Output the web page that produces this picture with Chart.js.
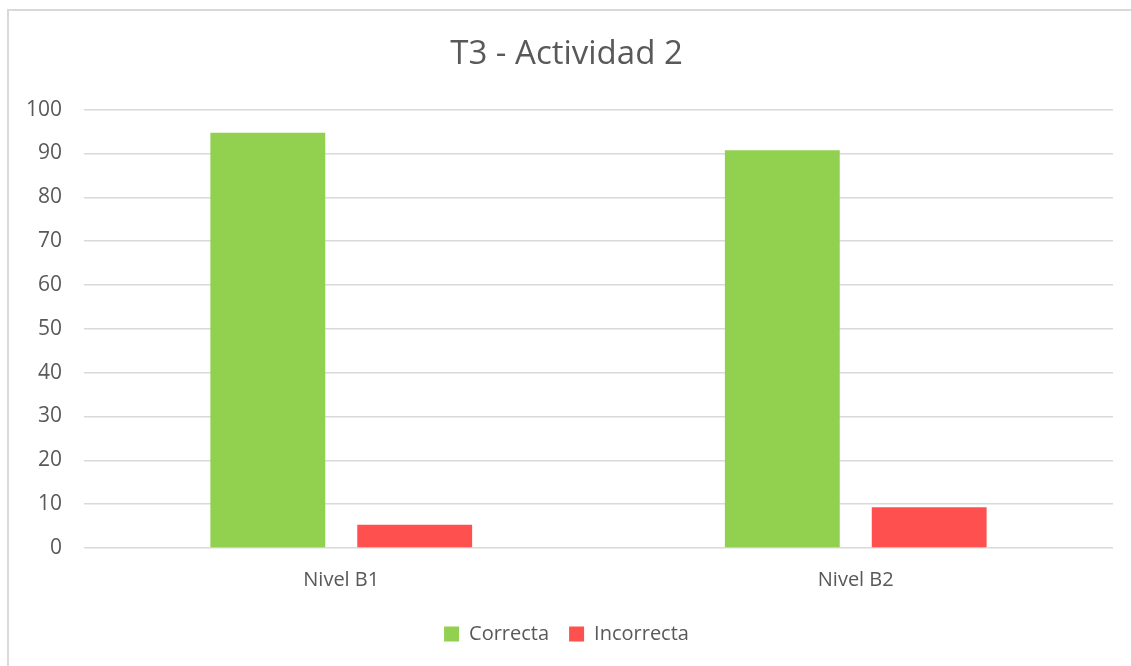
<!DOCTYPE html>
<html>
<head>
<meta charset="utf-8">
<script src="https://cdn.jsdelivr.net/npm/chart.js@4/dist/chart.umd.min.js"></script>
<style>
  html, body { margin: 0; padding: 0; background: #fff; }
  #frame { position: absolute; left: 7px; top: 9px; width: 1130px; height: 670px; border: 2px solid #d9d9d9; box-sizing: border-box; }
  #wrap { position: absolute; left: 0; top: 0; width: 1131px; height: 666px; }
</style>
</head>
<body>
<div id="frame"></div>
<div id="wrap"><canvas id="chart"></canvas></div>
<script>
const categories = ['Nivel B1', 'Nivel B2'];
const correcta = [94.7, 90.7];
const incorrecta = [5.3, 9.3];
const yTicks = [0, 10, 20, 30, 40, 50, 60, 70, 80, 90, 100];

const ctx = document.getElementById('chart').getContext('2d');
Chart.defaults.font.family = '"Open Sans", sans-serif';
Chart.defaults.color = '#595959';

new Chart(ctx, {
    type: 'bar',
    data: {
        labels: categories,
        datasets: [
            {
                label: 'Correcta',
                data: correcta,
                backgroundColor: '#92D050',
                categoryPercentage: 0.571,
                barPercentage: 0.782
            },
            {
                label: 'Incorrecta',
                data: incorrecta,
                backgroundColor: '#FF5050',
                categoryPercentage: 0.571,
                barPercentage: 0.782
            }
        ]
    },
    options: {
        responsive: true,
        maintainAspectRatio: false,
        animation: false,
        layout: {
            padding: { left: 20, right: 18, top: 20, bottom: 12 }
        },
        plugins: {
            title: {
                display: true,
                text: 'T3 - Actividad 2',
                font: { size: 33, weight: 'normal' },
                color: '#595959',
                padding: { top: 15, bottom: 35 }
            },
            legend: {
                position: 'bottom',
                labels: {
                    boxWidth: 15,
                    boxHeight: 15,
                    font: { size: 20 },
                    padding: 20
                }
            },
            tooltip: { enabled: false }
        },
        scales: {
            x: {
                grid: { display: false },
                border: { display: false },
                ticks: { font: { size: 20 }, padding: 12 }
            },
            y: {
                min: 0,
                max: 100,
                afterBuildTicks: (scale) => {
                    scale.ticks = yTicks.map(v => ({ value: v }));
                },
                afterFit: (scale) => { scale.width = 64; },
                grid: { color: '#d9d9d9', lineWidth: 1.5, drawTicks: false },
                border: { display: false },
                ticks: { font: { size: 21 }, padding: 22 }
            }
        }
    }
});
</script>
</body>
</html>
